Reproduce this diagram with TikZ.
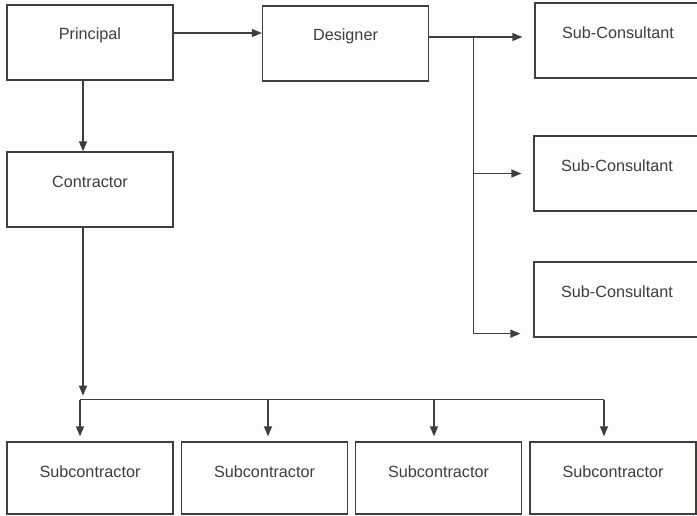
\documentclass[tikz,border=0pt]{standalone}
\usepackage{fontspec}
\setmainfont{Liberation Sans}
\usetikzlibrary{arrows.meta,positioning,calc}
\definecolor{lgray}{RGB}{62,62,62}
\definecolor{paper}{RGB}{253,253,251}

\begin{document}
\begin{tikzpicture}[x=1pt,y=-1pt,font=\fontsize{16.2}{19}\selectfont,
  box/.style={draw=lgray,line width=1.3pt,minimum width=166pt,minimum height=75pt,inner sep=0pt,
    label={[anchor=center,yshift=-30.5pt,text=lgray]north:#1}},
  line/.style={line width=1.3pt,lgray},
  arr/.style={-{Triangle[length=10pt,width=8pt]},line width=1.3pt,lgray}]
\useasboundingbox (0,0) rectangle (697,515);
\clip (0,0) rectangle (697,515);
\fill[paper] (0,0) rectangle (697,515);
\node[box=Principal] (principal) at (90,42.5) {};
\node[box=Designer] (designer) at (345.5,43.5) {};
\node[box=Sub-Consultant] (sc1) at (618,40.5) {};
\node[box=Sub-Consultant] (sc2) at (617,173.5) {};
\node[box=Sub-Consultant] (sc3) at (617,299.5) {};
\node[box=Contractor] (contractor) at (90,189.5) {};
\node[box=Subcontractor,minimum height=72pt] (s1) at (90,478) {};
\node[box=Subcontractor,minimum height=72pt] (s2) at (264.5,478) {};
\node[box=Subcontractor,minimum height=72pt] (s3) at (438.5,478) {};
\node[box=Subcontractor,minimum height=72pt] (s4) at (613,478) {};
% top row
\coordinate (pd) at ($(principal.east)+(0,-9.5)$);
\draw[arr] (pd) -- (pd -| designer.west);
\draw[arr] ($(principal.south)+(-7,0)$) -- ($(contractor.north)+(-7,0)$);
% designer to sub-consultants
\coordinate (dsplit) at ($(designer.east)+(44.5,-6.5)$);
\draw[arr] (dsplit -| designer.east) -- ($(dsplit -| sc1.west)+(-12,0)$);
\draw[arr] (dsplit) |- ($(sc3.south west)+(-13,-4)$);
\draw[arr] (dsplit |- sc2.west) -- ($(sc2.west)+(-12,0)$);
% contractor to subcontractors
\coordinate (cbus) at ($(contractor.south)+(-7,172)$);
\draw[arr] ($(contractor.south)+(-7,0)$) -- ($(cbus)+(0,-4)$);
\draw[line] ($(cbus -| s1.north)+(-10,0)$) -- ($(cbus -| s4.north)+(-9,0)$);
\foreach \nd/\d in {s1/-10,s2/3.5,s3/-4.5,s4/-9}
  \draw[arr] ($(cbus -| \nd.north)+(\d,0)$) -- ($(\nd.north)+(\d,-5)$);
\end{tikzpicture}
\end{document}
